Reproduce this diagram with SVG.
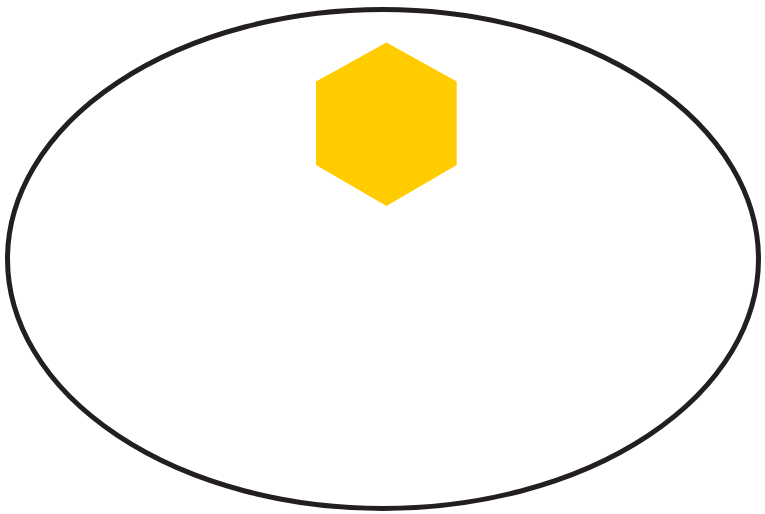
<svg xmlns="http://www.w3.org/2000/svg" width="765" height="514" viewBox="0 0 765 514">
<style>
.outline{fill:none;stroke:#231f20;stroke-width:5}
.hex{fill:#ffcc00;stroke:none}
</style>
<rect width="765" height="514" fill="#ffffff"/>
<g id="boundary"><ellipse class="outline" cx="383" cy="259" rx="375.5" ry="249.5"/></g>
<g id="hexagon"><polygon class="hex" points="386.5,42.5 456.7,81.5 456.7,165 386.5,206 316,165 316,81.5"/></g>
<g id="connectors"></g>
</svg>
